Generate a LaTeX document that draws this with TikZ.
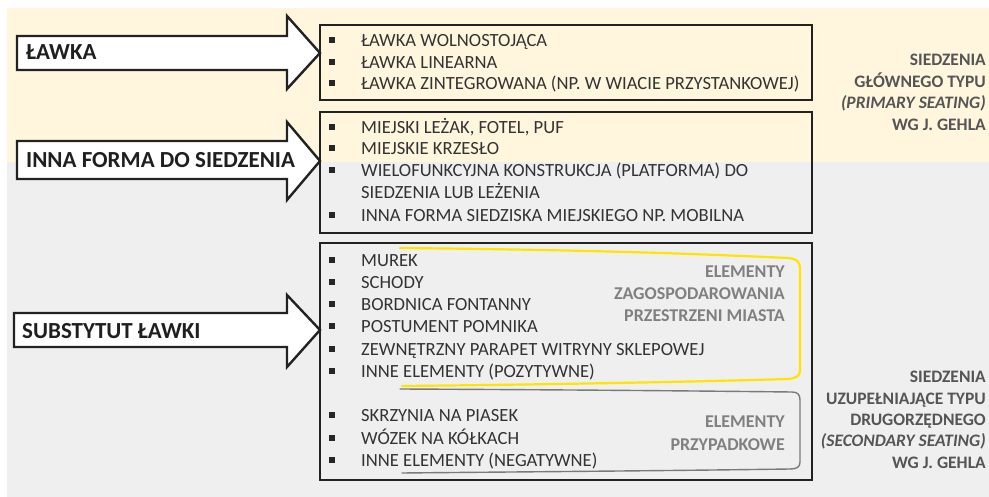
\documentclass[tikz,border=0pt]{standalone}
\usepackage{fontspec}
\setmainfont{Carlito}
\definecolor{cream}{HTML}{FFF6DD}
\definecolor{bggray}{HTML}{EFEFEF}
\definecolor{linedark}{HTML}{222222}
\definecolor{listtxt}{HTML}{333333}
\definecolor{grouptxt}{HTML}{808080}
\definecolor{sidetxt}{HTML}{555555}
\definecolor{hiyellow}{HTML}{FFE400}
\definecolor{brgray}{HTML}{7A7A7A}
\begin{document}
\begin{tikzpicture}[x=1pt,y=-1pt,
  bigarrow/.style={draw=linedark,line width=2.4pt,fill=white,line join=miter},
  boxframe/.style={draw=linedark,line width=2.4pt},
  arrowlabel/.style={anchor=base west,inner sep=0pt,font=\fontsize{23}{27}\selectfont\bfseries,text=black!88},
  item/.style={anchor=base west,inner sep=0pt,font=\fontsize{18.6}{22}\selectfont,text=listtxt},
  bulletsq/.style={fill=black!85,minimum size=5.2pt,inner sep=0pt,draw=none},
  grouplabel/.style={anchor=base east,inner sep=0pt,font=\fontsize{18}{21}\selectfont\bfseries,text=grouptxt},
  sidelabel/.style={anchor=base east,inner sep=0pt,font=\fontsize{17.5}{21}\selectfont\bfseries,text=sidetxt}
]
\useasboundingbox (0,0) rectangle (989,497);
% backgrounds
\fill[white] (0,0) rectangle (989,497);
\fill[cream] (7,8) rectangle (989,162);
\fill[bggray] (7,162) rectangle (989,497);

% arrows
\draw[bigarrow] (17,36) -- (287,36) -- (287,16) -- (320,53) -- (287,89) -- (287,70) -- (17,70) -- cycle;
\draw[bigarrow] (17,141) -- (287,141) -- (287,122) -- (320,161) -- (287,200) -- (287,179) -- (17,179) -- cycle;
\draw[bigarrow] (14,313) -- (287,313) -- (287,295) -- (320,330) -- (287,367) -- (287,347) -- (14,347) -- cycle;
\node[arrowlabel] (a1) at (26,60) {ŁAWKA};
\node[arrowlabel] (a2) at (26,168) {INNA FORMA DO SIEDZENIA};
\node[arrowlabel] (a3) at (22,338) {SUBSTYTUT ŁAWKI};

% boxes
\draw[boxframe] (320,25) rectangle (812,100);
\draw[boxframe] (320,112) rectangle (812,233);
\draw[boxframe] (320,243) rectangle (812,480);

% box 1 items
\foreach \yy/\txt [count=\i] in {40/ŁAWKA WOLNOSTOJĄCA,62/ŁAWKA LINEARNA,83/ŁAWKA ZINTEGROWANA (NP. W WIACIE PRZYSTANKOWEJ)}{
  \node[bulletsq] (b1\i) at (332,\yy) {};
  \node[item] (t1\i) at (361,\yy+6.5) {\txt};
}
% box 2 items
\foreach \yy [count=\i] in {127,148,170,215}{
  \node[bulletsq] (b2\i) at (332,\yy) {};
}
\node[item] (t21) at (361,133.5) {MIEJSKI LEŻAK, FOTEL, PUF};
\node[item] (t22) at (361,154.5) {MIEJSKIE KRZESŁO};
\node[item] (t23) at (361,176.5) {WIELOFUNKCYJNA KONSTRUKCJA (PLATFORMA) DO};
\node[item] (t23b) at (361,198.5) {SIEDZENIA LUB LEŻENIA};
\node[item] (t24) at (361,221.5) {INNA FORMA SIEDZISKA MIEJSKIEGO NP. MOBILNA};

% box 3 items
\foreach \yy/\txt [count=\i] in {260/MUREK,282/SCHODY,304/BORDNICA FONTANNY,326/POSTUMENT POMNIKA,349/ZEWNĘTRZNY PARAPET WITRYNY SKLEPOWEJ,371/INNE ELEMENTY (POZYTYWNE),415/SKRZYNIA NA PIASEK,438/WÓZEK NA KÓŁKACH,460/INNE ELEMENTY (NEGATYWNE)}{
  \node[bulletsq] (b3\i) at (332,\yy) {};
  \node[item] (t3\i) at (361,\yy+6.5) {\txt};
}

% brackets
\draw[hiyellow,line width=2.2pt,line cap=round]
  (400,248) .. controls (600,250) and (700,254) .. (788,258)
  .. controls (798,259) and (800,262) .. (800,270)
  -- (800,370)
  .. controls (800,376) and (797,378) .. (788,379)
  .. controls (650,383) and (500,385) .. (402,386);
\draw[brgray,line width=1.4pt,line cap=round]
  (400,389) .. controls (600,390) and (700,391) .. (792,392)
  .. controls (798,392) and (800,395) .. (800,400)
  -- (800,462)
  .. controls (800,467) and (797,469) .. (790,469)
  .. controls (650,471) and (500,472) .. (402,473);

% group labels
\node[grouplabel] (g1) at (785,278) {ELEMENTY};
\node[grouplabel] (g2) at (785,300) {ZAGOSPODAROWANIA};
\node[grouplabel] (g3) at (785,322) {PRZESTRZENI MIASTA};
\node[grouplabel] (g4) at (785,428) {ELEMENTY};
\node[grouplabel] (g5) at (785,450) {PRZYPADKOWE};

% side labels
\node[sidelabel] (s1) at (986,66) {SIEDZENIA};
\node[sidelabel] (s2) at (986,88) {GŁÓWNEGO TYPU};
\node[sidelabel] (s3) at (986,109) {\itshape (PRIMARY SEATING)};
\node[sidelabel] (s4) at (986,131) {WG J. GEHLA};
\node[sidelabel] (s5) at (986,383) {SIEDZENIA};
\node[sidelabel] (s6) at (986,404) {UZUPEŁNIAJĄCE TYPU};
\node[sidelabel] (s7) at (986,425) {DRUGORZĘDNEGO};
\node[sidelabel] (s8) at (986,446) {\itshape (SECONDARY SEATING)};
\node[sidelabel] (s9) at (986,468) {WG J. GEHLA};
\end{tikzpicture}
\end{document}
